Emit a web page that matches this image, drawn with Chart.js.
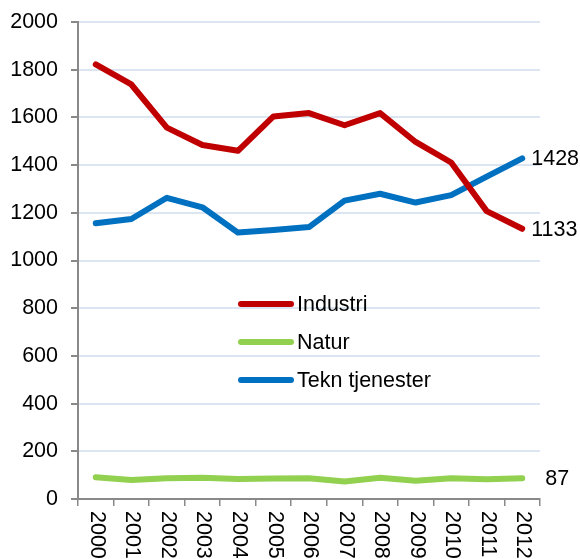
<!DOCTYPE html>
<html>
<head>
<meta charset="utf-8">
<script src="https://cdn.jsdelivr.net/npm/chart.js@4.4.1/dist/chart.umd.min.js"></script>
<style>
  html, body { margin: 0; padding: 0; background: #fff; }
  #wrap { width: 580px; height: 559px; position: relative; }
</style>
</head>
<body>
<div id="wrap"><canvas id="c" width="580" height="559"></canvas></div>
<script>
const years = ['2000','2001','2002','2003','2004','2005','2006','2007','2008','2009','2010','2011','2012'];
const industri = [1822, 1738, 1557, 1484, 1460, 1604, 1618, 1567, 1618, 1497, 1411, 1207, 1133];
const natur = [91, 80, 87, 89, 84, 86, 87, 73, 89, 77, 87, 83, 87];
const teknTjenester = [1156, 1174, 1263, 1223, 1117, 1128, 1140, 1251, 1280, 1243, 1274, 1352, 1428];
const seriesNames = ['Industri', 'Natur', 'Tekn tjenester'];
const yTicks = [0, 200, 400, 600, 800, 1000, 1200, 1400, 1600, 1800, 2000];

const FONT = '"Liberation Sans", Arial, sans-serif';
const FS = 21.5;

const endLabels = {
  id: 'endLabels',
  afterDatasetsDraw(chart) {
    const ctx = chart.ctx;
    const offsets = [9, 23, 9];
    ctx.save();
    ctx.font = FS + 'px ' + FONT;
    ctx.fillStyle = '#000';
    ctx.textBaseline = 'middle';
    ctx.textAlign = 'left';
    chart.data.datasets.forEach((ds, i) => {
      const meta = chart.getDatasetMeta(i);
      const pt = meta.data[meta.data.length - 1];
      const v = ds.data[ds.data.length - 1];
      ctx.fillText(String(v), pt.x + offsets[i], pt.y + 1);
    });
    ctx.restore();
  }
};

const innerLegend = {
  id: 'innerLegend',
  afterDraw(chart) {
    const ctx = chart.ctx;
    const x0 = 241, x1 = 291, tx = 297;
    const ys = [304, 342, 380];
    ctx.save();
    ctx.font = FS + 'px ' + FONT;
    ctx.textBaseline = 'middle';
    ctx.textAlign = 'left';
    chart.data.datasets.forEach((ds, i) => {
      ctx.strokeStyle = ds.borderColor;
      ctx.lineWidth = 6;
      ctx.lineCap = 'round';
      ctx.beginPath();
      ctx.moveTo(x0, ys[i]);
      ctx.lineTo(x1, ys[i]);
      ctx.stroke();
      ctx.fillStyle = '#000';
      ctx.fillText(ds.label, tx, ys[i] + 1);
    });
    ctx.restore();
  }
};

const xLabels = {
  id: 'xLabels',
  afterDraw(chart) {
    const ctx = chart.ctx;
    const sx = chart.scales.x;
    ctx.save();
    ctx.font = FS + 'px ' + FONT;
    ctx.fillStyle = '#000';
    ctx.textBaseline = 'middle';
    ctx.textAlign = 'left';
    years.forEach((y, i) => {
      const px = sx.getPixelForValue(i);
      ctx.save();
      ctx.translate(px + 1, 511);
      ctx.rotate(Math.PI / 2);
      ctx.fillText(y, 0, 0);
      ctx.restore();
    });
    ctx.restore();
  }
};

new Chart(document.getElementById('c'), {
  type: 'line',
  data: {
    labels: years,
    datasets: [
      { label: seriesNames[0], data: industri, borderColor: '#C00000', backgroundColor: '#C00000' },
      { label: seriesNames[1], data: natur, borderColor: '#92D050', backgroundColor: '#92D050' },
      { label: seriesNames[2], data: teknTjenester, borderColor: '#0070C0', backgroundColor: '#0070C0' }
    ]
  },
  options: {
    responsive: false,
    animation: false,
    devicePixelRatio: 1,
    layout: { padding: { top: 0, right: 40, left: 0, bottom: 0 } },
    elements: {
      line: { borderWidth: 6, tension: 0, borderJoinStyle: 'round', borderCapStyle: 'round' },
      point: { radius: 0, hoverRadius: 0 }
    },
    plugins: {
      legend: { display: false },
      tooltip: { enabled: false }
    },
    scales: {
      x: {
        type: 'category',
        offset: true,
        grid: { offset: true, drawOnChartArea: false, drawTicks: true, tickLength: 7, color: '#898989', tickColor: '#898989', lineWidth: 1.5 },
        border: { color: '#898989', width: 2 },
        ticks: { display: false },
        afterFit(scale) { scale.height = 60; }
      },
      y: {
        min: 0,
        max: 2000,
        afterBuildTicks(scale) { scale.ticks = yTicks.map(v => ({ value: v })); },
        grid: { color: '#DCE6F2', lineWidth: 2, tickColor: '#898989', tickLength: 7, drawTicks: true },
        border: { color: '#898989', width: 2 },
        ticks: { font: { family: FONT, size: FS }, color: '#000', padding: 13, callback: (v) => String(v) },
        afterFit(scale) { scale.width = 78; scale.paddingTop = 22; }
      }
    }
  },
  plugins: [endLabels, innerLegend, xLabels]
});
</script>
</body>
</html>
